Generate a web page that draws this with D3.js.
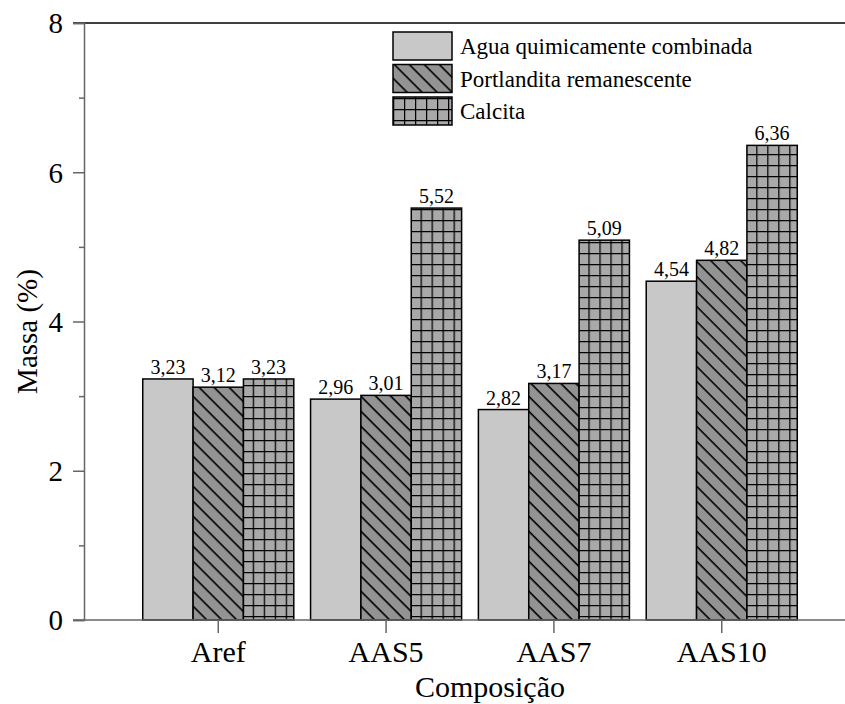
<!DOCTYPE html>
<html>
<head>
<meta charset="utf-8">
<script src="https://cdn.jsdelivr.net/npm/d3@7"></script>
</head>
<body style="margin:0;padding:0;background:#fff">
<svg id="chart" width="845" height="704" style="display:block" font-family="Liberation Serif, Times New Roman, Times, serif"></svg>
<style>
html body svg#chart text, html body svg#chart g text { font-family: "Liberation Serif", "Times New Roman", Times, serif !important; }
</style>
<script>
const categories = ["Aref", "AAS5", "AAS7", "AAS10"];
const seriesNames = ["Agua quimicamente combinada", "Portlandita remanescente", "Calcita"];
const aguaValues = [3.23, 2.96, 2.82, 4.54];
const portlanditaValues = [3.12, 3.01, 3.17, 4.82];
const calcitaValues = [3.23, 5.52, 5.09, 6.36];
const yTicks = [0, 2, 4, 6, 8];
const yMinorTicks = [1, 3, 5, 7];
const xTitle = "Composição";
const yTitle = "Massa (%)";

const seriesValues = [aguaValues, portlanditaValues, calcitaValues];
const fills = ["#c8c8c8", "url(#diag)", "url(#grid)"];
const FONT = "Liberation Serif, Times New Roman, Times, serif";

const svg = d3.select("#chart");
const W = 845, H = 704;
svg.append("rect").attr("width", W).attr("height", H).attr("fill", "#fff");

const defs = svg.append("defs");
const diag = defs.append("pattern").attr("id", "diag")
  .attr("patternUnits", "userSpaceOnUse").attr("width", 10).attr("height", 10.6)
  .attr("patternTransform", "rotate(45)");
diag.append("rect").attr("width", 10).attr("height", 10.6).attr("fill", "#939393");
diag.append("line").attr("x1", -1).attr("x2", 11).attr("y1", 0.8).attr("y2", 0.8)
  .attr("stroke", "#000").attr("stroke-width", 1.6);

const grid = defs.append("pattern").attr("id", "grid")
  .attr("patternUnits", "userSpaceOnUse").attr("width", 11).attr("height", 11);
grid.append("rect").attr("width", 11).attr("height", 11).attr("fill", "#a9a9a9");
grid.append("path").attr("d", "M0.6,0 V11 M0,0.6 H11")
  .attr("stroke", "#000").attr("stroke-width", 1.3).attr("fill", "none");

const mLeft = 84, mTop = 23, mBottom = 620;

const y = d3.scaleLinear().domain([0, 8]).range([mBottom, mTop]);
const x0 = d3.scaleBand().domain(categories).range([mLeft, 856])
  .paddingInner(0.1).paddingOuter(0.35);
const x1 = d3.scaleBand().domain(seriesNames).range([0, x0.bandwidth()]).padding(0);

// bars
const groups = svg.append("g").selectAll("g").data(categories).join("g")
  .attr("transform", d => `translate(${x0(d)},0)`);

groups.each(function(cat, ci) {
  const g = d3.select(this);
  seriesNames.forEach((s, si) => {
    const v = seriesValues[si][ci];
    g.append("rect")
      .attr("x", x1(s)).attr("y", y(v))
      .attr("width", x1.bandwidth()).attr("height", y(0) - y(v))
      .attr("fill", fills[si]).attr("stroke", "#000").attr("stroke-width", 1.5);
    g.append("text")
      .attr("x", x1(s) + x1.bandwidth() / 2).attr("y", y(v) - 5)
      .attr("text-anchor", "middle")
      .attr("font-family", FONT).attr("font-size", 20).attr("fill", "#000")
      .text(v.toFixed(2).replace(".", ","));
  });
});

// axes
const axisColor = "#666";
svg.append("line").attr("x1", 73).attr("x2", W).attr("y1", y(8)).attr("y2", y(8))
  .attr("stroke", "#000").attr("stroke-width", 1.5);
svg.append("line").attr("x1", 73).attr("x2", W).attr("y1", y(0)).attr("y2", y(0))
  .attr("stroke", axisColor).attr("stroke-width", 1.5);

const yAxis = svg.append("g").attr("transform", `translate(${mLeft},0)`)
  .call(d3.axisLeft(y).tickValues(yTicks).tickSize(11).tickPadding(10).tickFormat(d3.format("d")))
  .attr("font-family", FONT).attr("font-size", 29);
yAxis.select(".domain").attr("stroke", axisColor).attr("stroke-width", 1.5);
yAxis.selectAll(".tick line").attr("stroke", axisColor).attr("stroke-width", 1.5);
yAxis.selectAll(".tick text").attr("font-family", FONT).attr("font-size", 29)
  .attr("fill", "#000").attr("dy", "0.34em");

const yMinor = svg.append("g").attr("transform", `translate(${mLeft},0)`)
  .call(d3.axisLeft(y).tickValues(yMinorTicks).tickSize(5).tickFormat(""));
yMinor.select(".domain").remove();
yMinor.selectAll(".tick text").remove();
yMinor.selectAll(".tick line").attr("stroke", axisColor).attr("stroke-width", 1.5);

const xAxis = svg.append("g").attr("transform", `translate(0,${mBottom})`)
  .call(d3.axisBottom(x0).tickSize(13).tickPadding(8))
  .attr("font-family", FONT).attr("font-size", 30);
xAxis.select(".domain").remove();
xAxis.selectAll(".tick line").attr("stroke", axisColor).attr("stroke-width", 1.5);
xAxis.selectAll(".tick text").attr("font-family", FONT).attr("font-size", 30)
  .attr("fill", "#000");

// titles
svg.append("text").attr("x", 490).attr("y", 697).attr("text-anchor", "middle")
  .attr("font-family", FONT).attr("font-size", 30).attr("fill", "#000").text(xTitle);
svg.append("text").attr("transform", `translate(37,${(mTop + mBottom) / 2 + 10}) rotate(-90)`)
  .attr("text-anchor", "middle")
  .attr("font-family", FONT).attr("font-size", 29).attr("fill", "#000").text(yTitle);

// legend
const legend = svg.append("g").attr("transform", "translate(393,32)");
seriesNames.forEach((s, i) => {
  const gy = i * 32.5;
  legend.append("rect").attr("x", 0).attr("y", gy).attr("width", 59).attr("height", 28)
    .attr("fill", fills[i]).attr("stroke", "#000").attr("stroke-width", 1.5);
  legend.append("text").attr("x", 67).attr("y", gy + 14).attr("dy", "0.35em")
    .attr("font-family", FONT).attr("font-size", 23).attr("fill", "#000").text(s);
});

// force serif font on every text element
svg.selectAll("text").each(function() {
  this.setAttribute("style", "font-family: 'Liberation Serif', 'Times New Roman', Times, serif !important;");
});
</script>
</body>
</html>
